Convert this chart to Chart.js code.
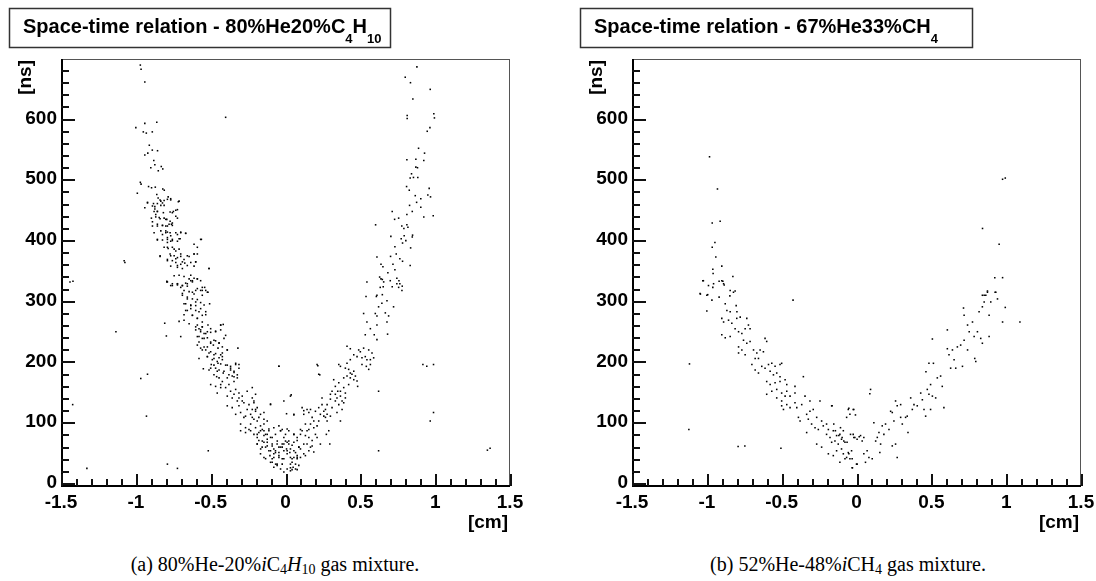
<!DOCTYPE html>
<html>
<head>
<meta charset="utf-8">
<script src="https://cdn.jsdelivr.net/npm/chart.js@4.4.0/dist/chart.umd.min.js"></script>
<style>
  html, body { margin: 0; padding: 0; background: #fff; overflow: hidden; }
  body { width: 1096px; height: 581px; position: relative; }
  canvas { position: absolute; top: 0; }
  #plotA { left: 0; }
  #plotB { left: 571px; }
  .caption {
    position: absolute; top: 553px; width: 550px; text-align: center;
    font-family: "Liberation Serif", "DejaVu Serif", serif; font-size: 20px; color: #000; white-space: nowrap;
  }
  .caption sub { font-size: 14px; vertical-align: -3px; line-height: 0; }
  #capA { left: 0; }
  #capB { left: 573px; }
</style>
</head>
<body>
<canvas id="plotA" width="540" height="540"></canvas>
<canvas id="plotB" width="540" height="540"></canvas>
<div class="caption" id="capA">(a) 80%He-20%<i>i</i>C<sub>4</sub><i>H</i><sub>10</sub> gas mixture.</div>
<div class="caption" id="capB">(b) 52%He-48%<i>i</i>CH<sub>4</sub> gas mixture.</div>

<script>
// axis ranges (cm, ns)
const xRange = [-1.5, 1.5];
const yRange = [-5, 698];
const xMajor = [-1.5, -1, -0.5, 0, 0.5, 1, 1.5];
const yMajor = [0, 100, 200, 300, 400, 500, 600];

// titles: [text, subscript?]
const titleA = [["Space-time relation - 80%He20%C", false], ["4", true], ["H", false], ["10", true]];
const titleB = [["Space-time relation - 67%He33%CH", false], ["4", true]];

// drift distance [cm], drift time [ns] - 80%He 20%C4H10
const hitsC4H10 = [
  [-0.97,688],[-0.965,681],[-0.94,660],[-0.40,602],[-1.0,585],[-0.94,592],[-0.86,594],[-0.95,578],[-0.93,576],[-0.89,578],
  [-0.91,556],[-0.89,548],[-0.855,547],[-0.94,540],[-0.92,543],[-0.88,531],[-0.873,524],[-0.9,519],[-0.83,521],[-0.82,517],
  [-0.85,514],[-0.97,495],[-0.965,492],[-0.99,477],[-0.915,488],[-0.895,486],[-0.87,487],[-0.81,482],[-0.82,484],
  [-1.44,331],[-1.42,332],[-1.133,249],[-0.967,172],[-0.922,179],[-0.929,110],[-1.422,129],[-1.327,24],[-0.789,31],[-0.722,24],
  [-0.516,53],[-0.807,263],[-0.796,242],[-0.7,241],[-0.318,222],[-0.044,192],[-0.1,130],[0.038,145],[0.007,114],[0.056,112],
  [-0.549,188],[-1.078,366],[-1.073,363],
  [-0.922,461],[-0.889,456],[-0.873,451],[-0.856,447],[-0.833,464],[-0.789,467],[-0.767,468],[-0.716,463],[-0.811,457],[-0.867,442],
  [-0.844,437],[-0.8,434],[-0.756,445],[-0.722,450],[-0.733,439],[-0.889,430],[-0.856,423],[-0.822,424],[-0.789,423],[-0.762,426],
  [-0.833,415],[-0.8,412],[-0.767,407],[-0.722,409],[-0.7,412],[-0.667,411],[-0.856,401],[-0.789,401],[-0.756,399],[-0.711,402],
  [-0.611,393],[-0.589,388],[-0.567,401],[-0.789,388],[-0.744,385],[-0.7,377],[-0.656,374],[-0.611,377],[-0.767,374],[-0.789,366],
  [-0.733,369],[-0.689,364],[-0.722,358],[-0.656,358],[-0.6,364],[-0.511,353],[-0.838,374],[-0.793,332],[-0.767,325],[-0.722,328],
  [-0.689,325],[-0.656,328],[-0.622,331],[-0.589,336],[-0.567,333],[-0.556,322],[-0.533,317],[-0.6,317],
  [-0.86,475],[-0.851,469],[-0.838,466],[-0.922,462],[-0.882,460],[-0.856,460],[-0.822,461],[-0.811,465],[-0.784,471],[-0.767,466],
  [-0.711,464],[-0.873,455],[-0.833,457],[-0.94,453],[-0.878,447],[-0.856,447],[-0.816,445],[-0.771,446],[-0.749,447],[-0.733,449],
  [-0.896,436],[-0.867,438],[-0.838,435],[-0.811,436],[-0.793,434],[-0.771,431],[-0.756,428],[-0.722,436],[-0.856,426],[-0.822,424],
  [-0.8,423],[-0.778,426],[-0.756,424],[-0.878,412],[-0.889,423],[-0.8,415],[-0.789,413],[-0.771,412],[-0.733,412],[-0.7,413],
  [-0.667,411],[-0.822,409],[-0.789,404],[-0.756,401],[-0.722,398],[-0.704,402],[-0.789,396],[-0.767,398],[-0.856,400],[-0.822,400],
  [-0.562,401],[-0.811,388],[-0.784,386],[-0.756,388],[-0.733,382],[-0.711,385],[-0.771,377],[-0.744,374],[-0.722,371],[-0.7,373],
  [-0.678,368],[-0.644,373],[-0.611,377],[-0.589,377],[-0.838,373],[-0.789,368],[-0.756,366],[-0.733,363],[-0.7,360],[-0.673,362],
  [-0.633,363],[-0.6,364],[-0.767,357],[-0.722,355],[-0.689,353],[-0.611,357],[-0.511,353],[-0.744,341],[-0.711,342],[-0.678,340],
  [-0.633,342],[-0.611,337],[-0.644,336],[-0.793,331],[-0.756,328],[-0.722,326],[-0.689,325],[-0.656,324],[-0.622,333],[-0.589,336],
  [-0.678,317],[-0.644,315],[-0.611,311],[-0.567,317],[-0.54,322],[-0.689,309],[-0.656,306],[-0.622,303],[-0.589,302],[-0.556,309],
  [-0.518,314],[-0.667,295],[-0.633,293],[-0.6,292],[-0.567,297],[-0.544,293],[-0.507,295],[-0.667,284],[-0.633,287],[-0.6,284],
  [-0.578,282],[-0.556,276],[-0.533,277],[-0.678,277],[-0.622,276],[-0.589,271],[-0.678,268],[-0.711,266],[-0.644,262],[-0.589,260],
  [-0.556,257],[-0.518,260],[-0.433,260],[-0.416,261],[-0.6,252],[-0.567,249],[-0.544,246],[-0.5,248],[-0.467,250],[-0.433,252],
  [-0.4,243],[-0.589,241],[-0.556,238],[-0.522,239],[-0.578,232],[-0.5,232],[-0.467,234],[-0.444,231],[-0.482,227],[-0.522,224],
  [-0.451,222],[-0.422,224],[-0.389,219],[-0.556,219],[-0.5,216],[-0.467,213],[-0.433,211],[-0.578,205],[-0.522,208],[-0.478,205],
  [-0.422,203],[-0.451,197],[-0.478,194],[-0.389,194],[-0.367,192],[-0.333,197],[-0.311,195],[-0.5,189],[-0.444,186],[-0.411,184],
  [-0.367,186],[-0.344,182],[-0.311,189],[-0.322,178],[-0.46,175],[-0.344,175],[0.216,193],[0.229,178],
  [-0.789,331],[-0.756,325],[-0.722,328],[-0.7,322],[-0.667,329],[-0.633,333],[-0.689,312],[-0.656,303],[-0.622,314],[-0.589,320],
  [-0.556,317],[-0.522,314],[-0.678,295],[-0.633,292],[-0.6,298],[-0.567,287],[-0.533,282],[-0.656,284],[-0.622,276],[-0.589,271],
  [-0.556,265],[-0.6,257],[-0.567,252],[-0.533,246],[-0.578,241],[-0.544,238],[-0.5,254],[-0.467,249],[-0.433,260],[-0.444,230],
  [-0.478,235],[-0.5,230],[-0.411,238],[-0.567,222],[-0.533,219],[-0.511,214],[-0.478,211],[-0.444,206],[-0.422,208],[-0.389,219],
  [-0.496,195],[-0.467,189],[-0.433,196],[-0.4,194],[-0.367,189],[-0.344,184],[-0.333,195],[-0.478,178],[-0.444,173],[-0.422,167],
  [-0.389,173],[-0.356,176],[-0.322,173],[-0.5,162],[-0.467,159],[-0.433,157],[-0.456,148],[-0.4,157],[-0.367,151],[-0.333,154],
  [-0.311,148],[-0.389,143],[-0.356,140],[-0.322,135],[-0.289,143],[-0.256,151],[-0.222,157],[-0.2,146],[-0.389,127],[-0.356,124],
  [-0.311,127],[-0.278,132],[-0.244,129],[-0.211,135],[-0.333,113],[-0.3,116],[-0.267,110],[-0.233,113],[-0.2,118],[-0.178,108],
  [-0.144,116],[-0.122,102],[-0.3,97],[-0.267,91],[-0.233,97],[-0.2,91],[-0.167,94],[-0.3,86],[-0.267,83],[-0.233,86],
  [-0.189,80],[-0.167,86],[-0.144,78],[-0.111,89],[-0.078,91],[-0.178,70],[-0.144,67],[-0.122,72],[-0.089,75],[-0.067,80],
  [-0.033,86],[0.011,89],[0.056,80],[0.078,75],[-0.189,64],[-0.156,59],[-0.122,61],[-0.1,53],[-0.067,50],[-0.033,59],
  [-0.011,53],[0.022,64],[0.056,67],[0.089,59],[-0.078,42],[-0.044,45],[-0.022,40],[0.011,48],[0.044,40],[0.078,42],
  [-0.089,34],[-0.056,29],[-0.022,31],[0.011,23],[0.051,26],[0.078,22],[-0.133,40],[-0.167,48],
  [-0.578,254],[-0.556,257],[-0.522,249],[-0.589,227],[-0.544,224],[-0.522,208],[-0.489,203],[-0.456,200],[-0.422,214],[-0.511,186],
  [-0.456,184],[-0.416,181],[-0.378,178],[-0.344,167],[-0.378,162],[-0.433,162],[-0.344,146],[-0.311,140],[-0.289,135],[-0.256,121],
  [-0.222,121],[-0.189,124],[-0.278,108],[-0.211,105],[-0.144,105],[-0.244,88],[-0.211,80],[-0.144,86],[-0.122,80],[-0.089,64],
  [-0.055,69],[-0.044,59],[-0.022,64],[0,69],[0.033,56],[0.067,50],[-0.078,56],[-0.104,45],[0.033,31],
  [-0.222,140],[-0.211,132],[-0.2,121],[-0.222,108],[-0.189,102],[-0.167,113],[-0.144,97],[-0.155,88],[-0.178,83],[-0.133,80],
  [-0.111,86],[-0.189,75],[-0.155,69],[-0.122,67],[-0.1,75],[-0.133,59],[-0.189,64],[-0.166,56],[-0.111,53],[-0.089,61],
  [-0.144,42],[-0.1,34],[-0.066,31],[-0.078,26],[-0.044,50],[-0.022,59],[-0.011,64],[0.022,69],[0.007,56],[0.029,50],
  [0.044,34],[0.078,40],[0.1,42],[0.122,48],[0.1,56],[0.144,64],[0.156,53],[0.133,45],[0.178,61],[0.2,80],
  [0.211,75],[0.233,64],[0.056,80],[0.033,20],[0.067,23],[0.089,29],[-0.011,18],
  [0.878,685],[0.80,668],[0.835,659],[0.967,648],[0.851,632],[0.813,605],[0.813,600],[0.991,608],[0.995,601],[0.965,585],
  [0.947,579],[0.889,551],[0.929,543],[0.811,532],[0.871,533],[0.924,531],[0.871,520],[0.882,519],[0.842,509],[0.833,502],
  [0.855,503],[0.884,503],[0.809,488],[0.827,482],[0.96,485],[0.951,474],[0.969,471],[0.867,473],[0.904,468],[0.876,462],
  [0.829,457],[0.904,454],[0.847,447],[0.811,442],[0.924,438],[0.987,440],[0.713,447],[0.729,434],[0.756,436],[0.602,425],
  [0.777,423],[0.791,419],[0.811,425],[0.818,421],[0.849,408],[0.847,405],[0.793,407],[0.773,402],[0.804,399],[0.782,395],
  [0.704,406],[0.731,389],[0.836,387],[0.740,377],[0.702,373],[0.764,369],[0.611,372],[0.782,365],[0.718,360],[0.638,360],
  [0.651,356],[0.833,358],[0.731,351],[0.684,346],[0.629,339],[0.647,335],[0.744,337],[0.758,333],[0.764,328],[0.713,323],
  [0.633,322],[0.653,323],[0.78,324],[0.544,331],[0.538,307],[0.607,307],[0.647,310],
  [0.638,336],[0.656,331],[0.70,333],[0.744,328],[0.778,317],[0.756,322],[0.611,309],[0.644,296],[0.678,300],[0.622,290],
  [0.722,290],[0.667,280],[0.689,275],[0.611,275],[0.6,279],[0.522,279],[0.544,265],[0.567,254],[0.611,260],[0.678,265],
  [0.533,244],[0.593,244],[0.611,236],[0.682,245],[0.411,225],[0.433,221],[0.456,211],[0.489,219],[0.522,222],[0.556,219],
  [0.578,214],[0.511,206],[0.544,203],[0.567,203],[0.589,206],[0.54,192],[0.556,187],[0.567,195],
  [0.356,195],[0.367,192],[0.4,189],[0.422,187],[0.411,176],[0.433,173],[0.456,170],[0.478,168],[0.444,179],[0.389,173],
  [0.356,165],[0.482,159],[0.322,170],[0.349,151],[0.333,146],[0.367,143],[0.378,135],[0.356,129],[0.4,140],[0.389,132],
  [0.378,121],[0.344,116],[0.367,102],[0.311,151],[0.3,138],[0.278,129],[0.267,121],[0.244,140],[0.233,113],[0.256,110],
  [0.222,102],[0.211,94],[0.278,102],[0.289,86],[0.273,80],[0.296,64],[0.3,110],[0.111,124],[0.122,119],[0.156,116],
  [0.167,121],[0.178,108],[0.189,91],[0.144,86],[0.133,78],[0.156,75],[0.178,70],[0.189,51],[0.167,59],[0.122,64],
  [0.1,80],[0.1,88],[0.078,70],[0.089,59],[0.056,53],[0.044,62],[0.011,67],[-0.011,75],[0.022,86],[-0.033,86],
  [-0.044,94],[-0.022,88],[0,80],[-0.056,64],[-0.067,53],[-0.044,42],[-0.078,48],[-0.089,40],[-0.056,31],[-0.033,23],
  [0.033,25],[0.044,22],[0.067,31],[-0.011,40],[0.011,53],[0.033,42],[0.056,42],[0.078,45],[-0.1,129],[-0.011,135],
  [0.033,143],[0.056,113],[0.211,195],[0.222,179],[0.622,151],[-0.044,192],[0.622,53],[0.989,116],[0.967,102],[0.918,195],
  [0.944,192],[0.989,195],[1.349,54],[1.367,57],
  [0.122,113],[0.144,121],[0.2,118],[0.222,124],[0.244,129],[0.256,118],[0.278,113],[0.311,124],[0.333,135],[0.344,140],
  [0.367,151],[0.389,157],[0.4,148],[0.422,162],[0.433,181],[0.456,184],[0.467,176],[0.411,197],[0.433,203],[0.478,208],
  [0.5,216],[0.511,195],[0.533,208],[0.333,159],[0.3,146],[0.267,108],[0.189,102],[0.167,97],[0.156,88],[0.133,97],
  [0.111,86]
];

// drift distance [cm], drift time [ns] - 67%He 33%CH4
const hitsCH4 = [
  [-0.982,537],[-0.929,484],[-0.964,428],[-0.911,431],[-0.946,396],[-0.964,388],[-0.94,372],[-0.9,357],[-0.96,352],[-0.958,345],
  [-1.027,333],[-0.918,332],[-0.893,332],[-0.884,326],[-0.826,340],[-0.96,322],[-0.811,316],[-1.043,311],[-0.994,310],[-0.918,306],
  [-0.846,308],[-1.023,333],[-0.989,325],[-0.955,328],[-0.9,333],[-0.888,328],[-1.045,312],[-1.0,309],[-0.966,301],[-1.0,283],
  [-0.424,301],[-0.844,317],[-0.822,314],[-0.877,295],[-0.866,284],[-0.844,282],[-0.804,292],[-0.799,282],[-0.9,271],[-0.888,265],
  [-0.855,268],[-0.833,263],[-0.9,244],[-0.877,239],[-0.844,241],[-0.811,254],[-0.788,249],[-0.766,246],[-0.744,254],[-0.8,271],
  [-0.777,273],[-0.733,271],[-0.722,260],[-0.711,254],[-0.755,235],[-0.733,230],[-0.788,224],[-0.788,214],[-0.766,219],[-0.744,211],
  [-0.711,233],[-0.688,219],[-0.666,214],[-0.655,205],[-0.677,205],[-0.644,219],[-0.622,216],[-0.611,238],[-0.6,233],[-0.699,195],
  [-0.677,186],[-0.655,181],[-0.633,192],[-0.611,189],[-0.588,195],[-0.566,197],[-0.544,192],[-0.511,195],[-0.5,197],[-0.577,184],
  [-0.555,178],[-0.533,181],[-0.511,175],[-0.6,167],[-0.577,162],[-0.544,165],[-0.511,167],[-0.477,170],[-0.466,162],[-0.6,146],
  [-0.566,151],[-0.533,154],[-0.5,148],[-0.466,151],[-0.444,143],[-0.411,159],[-0.533,140],[-0.5,135],[-0.477,143],[-0.411,148],
  [-0.355,175],[-0.5,127],[-0.488,121],[-0.466,129],[-0.444,124],[-0.411,132],[-0.399,124],[-0.366,129],[-0.344,143],[-0.311,135],
  [-0.388,108],[-0.377,102],[-0.333,113],[-0.311,118],[-0.289,121],[-0.322,105],[-0.266,108],[-0.333,83],[-0.3,97],[-0.277,91],
  [-0.255,88],[-0.233,102],[-0.222,94],[-0.2,97],[-0.188,88],[-0.166,127],[-0.244,135],[-0.266,64],[-0.233,59],[-0.2,80],
  [-0.177,75],[-0.155,86],[-0.133,78],[-0.111,80],[-0.088,86],[-0.166,67],[-0.144,69],[-0.122,64],[-0.1,72],[-0.077,67],
  [-0.066,108],[-0.055,121],[-0.022,121],[-0.044,113],[-0.188,48],[-0.155,45],[-0.133,53],[-0.1,56],[-0.088,48],[-0.066,42],
  [-0.055,50],[-0.033,53],[-0.022,80],[-0.011,75],[-0.111,34],[-0.077,40],[-0.044,40],[-0.027,25],[0,31],[0.004,72],
  [0.018,76],[-1.116,196],[-1.12,88],[-0.791,60],[-0.746,61],[-0.505,57],
  [-0.163,127],[-0.152,97],[-0.141,86],[-0.107,91],[-0.118,78],[-0.096,75],[-0.085,69],[-0.063,67],[-0.04,80],[-0.018,75],
  [-0.051,48],[-0.029,40],[0.004,31],[-0.029,25],[-0.051,123],[-0.018,121],[-0.007,112],[0.027,78],[0.038,69],[0.049,75],
  [0.071,53],[0.083,42],[0.105,40],[0.06,34],[0.049,48],[0.094,154],[0.089,147],[0.116,99],[0.128,69],[0.139,75],
  [0.15,83],[0.161,64],[0.156,50],[0.183,80],[0.172,94],[0.194,97],[0.217,88],[0.228,118],[0.239,116],[0.25,102],
  [0.239,61],[0.261,64],[0.272,42],[0.261,135],[0.272,127],[0.295,108],[0.306,97],[0.295,129],[0.328,108],[0.344,83],
  [0.339,110],[0.362,140],[0.373,121],[0.384,129],[0.406,127],[0.429,148],[0.451,121],[0.44,137],[0.462,110],[0.473,154],
  [0.484,146],[0.495,162],[0.507,143],[0.495,121],[0.529,140],[0.464,183],[0.484,197],[0.514,197],[0.507,237],[0.54,173],
  [0.562,176],[0.584,124],[0.573,159],[0.607,252],[0.618,211],[0.607,221],[0.641,219],[0.652,203],[0.674,224],[0.663,189],
  [0.629,189],[0.696,227],[0.708,192],[0.719,276],[0.715,288],[0.742,260],[0.753,249],[0.719,235],[0.742,219],[0.775,265],
  [0.786,241],[0.79,205],[0.797,200],[0.808,249],[0.83,238],[0.841,230],[0.819,282],[0.841,290],[0.853,298],[0.864,309],
  [0.875,314],[0.841,309],[0.886,276],[0.897,298],[0.931,314],[0.942,303],[0.886,241],[0.976,265],[0.994,289],[1.092,265],
  [0.976,500],[0.994,502],[0.842,419],[0.953,393],[0.924,338],[0.976,338],[0.853,309],[0.875,316],[0.926,314]
];

const scatter = (pts) => ({
  data: pts.map(p => ({ x: p[0], y: p[1] })),
  backgroundColor: '#000',
  borderWidth: 0,
  pointStyle: 'rect',
  pointRadius: 1.1
});

// ROOT style frame with inner ticks
const rootFrame = {
  id: 'rootFrame',
  afterDraw(chart) {
    const ctx = chart.ctx, a = chart.chartArea;
    const xs = chart.scales.x, ys = chart.scales.y;
    const L = Math.round(a.left), R = Math.round(a.right);
    const T = Math.round(a.top), B = Math.round(a.bottom);
    ctx.save();
    ctx.globalAlpha = 1;
    ctx.globalCompositeOperation = 'source-over';
    ctx.fillStyle = '#555';
    ctx.fillRect(L, T, R - L, 1);
    ctx.fillRect(R - 1, T, 1, B - T);
    ctx.fillStyle = '#000';
    ctx.fillRect(L, T, 2, B - T + 1);
    ctx.fillRect(L, B - 1, R - L, 2);
    ctx.fillStyle = '#111';
    for (let i = -15; i <= 15; i++) {
      const px = Math.round(xs.getPixelForValue(i / 10));
      const len = i % 5 === 0 ? 12 : 7;
      ctx.fillRect(px, B - len, 2, len);
    }
    for (let v = 0; v <= 680; v += 20) {
      const py = Math.round(ys.getPixelForValue(v));
      const len = v % 100 === 0 ? 14 : 8;
      ctx.fillRect(L, py, len, 2);
    }
    ctx.restore();
  }
};

// title box and axis titles
const rootText = {
  id: 'rootText',
  afterDraw(chart, args, opts) {
    const ctx = chart.ctx, a = chart.chartArea;
    ctx.save();
    ctx.strokeStyle = '#333';
    ctx.lineWidth = 1.5;
    ctx.strokeRect(9.5, 8.5, 381 + opts.boxExtra, 39);
    ctx.fillStyle = '#000';
    ctx.textBaseline = 'alphabetic';
    let tx = 23;
    opts.title.forEach(([txt, sub]) => {
      ctx.font = sub ? 'bold 13px "Liberation Sans"' : 'bold 20px "Liberation Sans"';
      ctx.fillText(txt, tx, sub ? 43 : 33);
      tx += ctx.measureText(txt).width;
    });
    ctx.font = 'bold 19px "Liberation Sans"';
    ctx.textAlign = 'right';
    ctx.fillText('[cm]', Math.round(a.right) - 2, 528);
    ctx.translate(31, Math.round(a.top) + 1);
    ctx.rotate(-Math.PI / 2);
    ctx.fillText('[ns]', 0, 0);
    ctx.restore();
  }
};

function makePlot(id, pts, title, boxExtra) {
  return new Chart(document.getElementById(id), {
    type: 'scatter',
    data: { datasets: [scatter(pts)] },
    plugins: [rootFrame, rootText],
    options: {
      responsive: false,
      animation: false,
      events: [],
      layout: { padding: { left: 0, top: 59, right: 30, bottom: 0 } },
      plugins: {
        legend: { display: false },
        tooltip: { enabled: false },
        rootText: { title: title, boxExtra: boxExtra }
      },
      scales: {
        x: {
          type: 'linear', min: xRange[0], max: xRange[1],
          afterFit: (s) => { s.height = 540 - 486; },
          afterBuildTicks: (s) => { s.ticks = xMajor.map(v => ({ value: v })); },
          grid: { display: false, drawTicks: false },
          border: { display: false },
          ticks: {
            color: '#000', padding: 5, maxRotation: 0, autoSkip: false,
            callback: (v) => String(v),
            font: { family: 'Liberation Sans', size: 19, weight: 'bold' }
          }
        },
        y: {
          type: 'linear', min: yRange[0], max: yRange[1],
          afterFit: (s) => { s.width = 61; },
          afterBuildTicks: (s) => { s.ticks = yMajor.map(v => ({ value: v })); },
          grid: { display: false, drawTicks: false },
          border: { display: false },
          ticks: {
            color: '#000', padding: 4,
            font: { family: 'Liberation Sans', size: 19, weight: 'bold' }
          }
        }
      }
    }
  });
}

makePlot('plotA', hitsC4H10, titleA, 0);
makePlot('plotB', hitsCH4, titleB, 11);
</script>
</body>
</html>
